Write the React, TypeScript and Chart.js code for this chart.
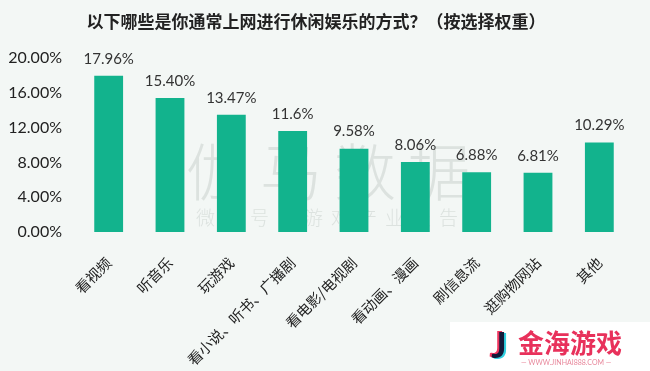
import React, { useEffect, useRef } from 'react';
import { Chart, registerables } from 'chart.js';

Chart.register(...registerables);

const categories = ['看视频', '听音乐', '玩游戏', '看小说、听书、广播剧', '看电影/电视剧', '看动画、漫画', '刷信息流', '逛购物网站', '其他'];
const values = [17.96, 15.4, 13.47, 11.6, 9.58, 8.06, 6.88, 6.81, 10.29];
const valueLabels = ['17.96%', '15.40%', '13.47%', '11.6%', '9.58%', '8.06%', '6.88%', '6.81%', '10.29%'];
const yTickValues = [0, 4, 8, 12, 16, 20];
const titleText = '以下哪些是你通常上网进行休闲娱乐的方式？（按选择权重）';
const watermarkMain = '伽马数据';
const watermarkSub = '微信号：游戏产业报告';
const logoText = '金海游戏';
const logoUrl = '— WWW.JINHAI888.COM —';

const BG = '#f3f7f5';
const BAR = '#12b38d';
const FONT = "Lato, 'Noto Sans CJK SC', sans-serif";
const CJK = "'Noto Sans CJK SC', sans-serif";

const decorPlugin = {
  id: 'decor',
  beforeDraw(chart: any) {
    const ctx = chart.ctx;
    ctx.save();
    ctx.fillStyle = BG;
    ctx.fillRect(0, 0, chart.width, chart.height);
    ctx.restore();
  },
  beforeDatasetsDraw(chart: any) {
    const ctx = chart.ctx;
    ctx.save();
    ctx.fillStyle = '#dce2df';
    ctx.textAlign = 'center';
    ctx.textBaseline = 'middle';
    ctx.font = `300 62px ${CJK}`;
    (ctx as any).letterSpacing = '12px';
    ctx.fillText(watermarkMain, 334, 172);
    ctx.font = `300 19px ${CJK}`;
    (ctx as any).letterSpacing = '8px';
    ctx.fillText(watermarkSub, 331, 218);
    ctx.restore();
  },
  afterDraw(chart: any) {
    const ctx = chart.ctx;
    ctx.save();
    // title
    ctx.fillStyle = '#222';
    ctx.font = `bold 17px ${CJK}`;
    ctx.textAlign = 'center';
    ctx.textBaseline = 'middle';
    ctx.fillText(titleText, 316, 22);

    // value labels
    const meta = chart.getDatasetMeta(0);
    ctx.font = `15px ${FONT}`;
    ctx.fillStyle = '#333';
    ctx.textAlign = 'center';
    meta.data.forEach((bar: any, i: number) => {
      ctx.fillText(valueLabels[i], bar.x, bar.y - 17);
    });

    // logo box
    ctx.fillStyle = '#ffffff';
    ctx.fillRect(450, 322, 200, 49);
    ctx.font = `bold 36px ${FONT}`;
    ctx.textAlign = 'center';
    ctx.fillStyle = '#f0365f';
    ctx.fillText('J', 497, 345);
    ctx.fillStyle = '#30d0e0';
    ctx.fillText('J', 501, 347);
    ctx.fillStyle = '#141a3a';
    ctx.fillText('J', 499, 346);
    ctx.fillStyle = '#e8315b';
    ctx.font = `bold 26px ${CJK}`;
    ctx.textAlign = 'left';
    ctx.fillText(logoText, 518, 343);
    ctx.font = `7px ${FONT}`;
    ctx.fillStyle = '#e8889c';
    ctx.fillText(logoUrl, 521, 363);
    ctx.restore();
  },
};

export default function App() {
  const ref = useRef<HTMLCanvasElement | null>(null);
  useEffect(() => {
    document.body.style.margin = '0';
    if (!ref.current) return;
    const chart = new Chart(ref.current, {
      type: 'bar',
      data: {
        labels: categories,
        datasets: [
          {
            data: values,
            backgroundColor: BAR,
            barPercentage: 0.47,
            categoryPercentage: 1,
          },
        ],
      },
      options: {
        responsive: false,
        animation: false,
        layout: { padding: { top: 58, right: 20, left: 0, bottom: 0 } },
        plugins: {
          legend: { display: false },
          tooltip: { enabled: false },
          title: { display: false },
        },
        scales: {
          x: {
            grid: { display: false, drawTicks: false },
            border: { display: false },
            ticks: {
              minRotation: 45,
              maxRotation: 45,
              autoSkip: false,
              padding: 22,
              color: '#222',
              font: { family: CJK, size: 14.5 },
            },
            afterFit(scale: any) {
              scale.height = 139;
            },
          },
          y: {
            min: 0,
            max: 20,
            grid: { display: false, drawTicks: false },
            border: { display: false },
            afterBuildTicks(scale: any) {
              scale.ticks = yTickValues.map((v) => ({ value: v }));
            },
            ticks: {
              padding: 16,
              color: '#222',
              font: { family: FONT, size: 16 },
              callback: (v: any) => Number(v).toFixed(2) + '%',
            },
            afterFit(scale: any) {
              scale.width = 78;
            },
          },
        },
      },
      plugins: [decorPlugin],
    });
    return () => chart.destroy();
  }, []);
  return <canvas ref={ref} width={650} height={371} style={{ display: 'block' }} />;
}
